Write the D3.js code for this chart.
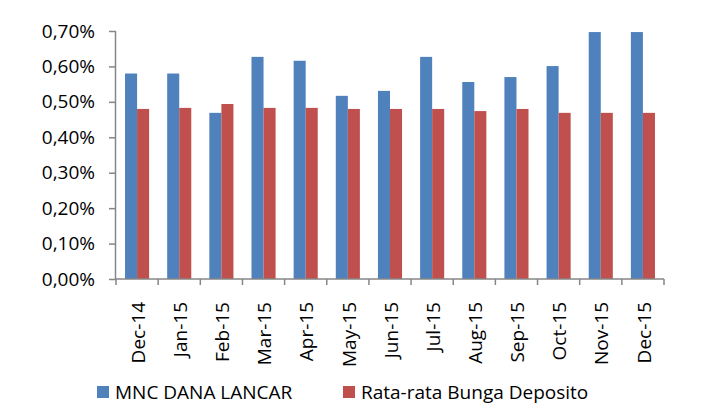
<!DOCTYPE html>
<html>
<head>
<meta charset="utf-8">
<script src="https://cdn.jsdelivr.net/npm/d3@7"></script>
<style>
  body { margin: 0; background: #fff; }
  text { font-family: "Open Sans", sans-serif; fill: #000; }
</style>
</head>
<body>
<svg id="chart" width="713" height="405"></svg>
<script>
const months = ["Dec-14", "Jan-15", "Feb-15", "Mar-15", "Apr-15", "May-15", "Jun-15",
  "Jul-15", "Aug-15", "Sep-15", "Oct-15", "Nov-15", "Dec-15"];
const mncDanaLancar = [0.58, 0.58, 0.469, 0.627, 0.616, 0.517, 0.531, 0.627, 0.556, 0.57, 0.601, 0.697, 0.697];
const bungaDeposito = [0.48, 0.483, 0.494, 0.483, 0.483, 0.48, 0.48, 0.48, 0.474, 0.48, 0.469, 0.469, 0.469];
const yTicks = [0, 0.1, 0.2, 0.3, 0.4, 0.5, 0.6, 0.7];
const seriesNames = ["MNC DANA LANCAR", "Rata-rata Bunga Deposito"];
const colors = ["#4F81BD", "#C0504D"];

const marginLeft = 116;
const marginTop = 31;
const plotWidth = 548;
const plotHeight = 248;
const fontSize = "19px";

const svg = d3.select("#chart");
const g = svg.append("g").attr("transform", `translate(${marginLeft},${marginTop})`);

const xScale = d3.scaleBand().domain(months).range([0, plotWidth]);
const barScale = d3.scaleBand().domain([0, 1]).range([0, xScale.bandwidth() * 0.5714]);
const yScale = d3.scaleLinear().domain([0, 0.7]).range([plotHeight, 0]);

const offset = (xScale.bandwidth() - barScale.range()[1]) / 2;

// bars
[mncDanaLancar, bungaDeposito].forEach((values, si) => {
  g.selectAll(`.bar${si}`)
    .data(values)
    .enter()
    .append("rect")
    .attr("class", `bar${si}`)
    .attr("x", (d, i) => xScale(months[i]) + offset + barScale(si))
    .attr("y", (d) => yScale(d))
    .attr("width", barScale.bandwidth())
    .attr("height", (d) => plotHeight - yScale(d))
    .attr("fill", colors[si]);
});

// y axis
const yAxis = g.append("g")
  .call(d3.axisLeft(yScale).tickValues(yTicks).tickSize(7).tickPadding(14)
    .tickFormat((d) => d3.format(".2f")(d).replace(".", ",") + "%"));
yAxis.select(".domain").attr("d", `M-0.5,0V${plotHeight}`);
yAxis.selectAll("line, path").attr("stroke", "#868686").attr("stroke-width", 1.5);
yAxis.selectAll("text").style("font-size", fontSize);

// x axis
const xTickPositions = d3.range(months.length + 1).map((i) => i * xScale.step());
const xAxisG = g.append("g").attr("transform", `translate(0,${plotHeight})`);
xAxisG.append("line")
  .attr("x1", 0).attr("x2", plotWidth)
  .attr("stroke", "#868686").attr("stroke-width", 1.5);
xAxisG.selectAll(".xtick")
  .data(xTickPositions)
  .enter()
  .append("line")
  .attr("x1", (d) => d).attr("x2", (d) => d)
  .attr("y1", 0).attr("y2", 6)
  .attr("stroke", "#868686").attr("stroke-width", 1.5);
xAxisG.selectAll(".xlabel")
  .data(months)
  .enter()
  .append("text")
  .attr("transform", (d) => `translate(${xScale(d) + xScale.bandwidth() / 2 + 1},23) rotate(-90)`)
  .attr("text-anchor", "end")
  .attr("dy", "0.35em")
  .style("font-size", fontSize)
  .text((d) => d);

// legend
const legendX = [97, 343];
const legend = svg.append("g");
seriesNames.forEach((name, i) => {
  legend.append("rect")
    .attr("x", legendX[i]).attr("y", 386)
    .attr("width", 12).attr("height", 12)
    .attr("fill", colors[i]);
  legend.append("text")
    .attr("x", legendX[i] + 18).attr("y", 392)
    .attr("dy", "0.35em")
    .style("font-size", fontSize)
    .text(name);
});
</script>
</body>
</html>
